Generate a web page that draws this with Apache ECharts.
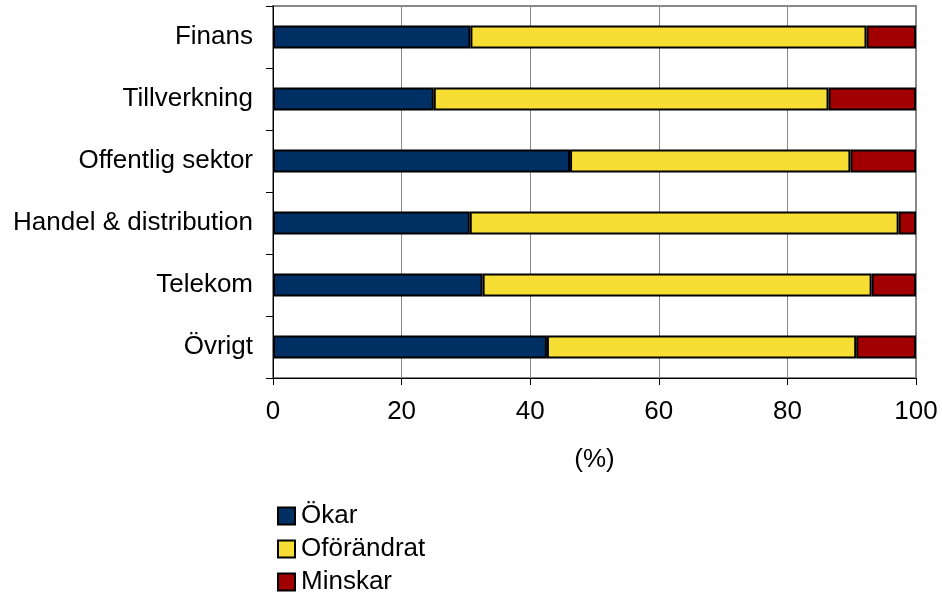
<!DOCTYPE html>
<html>
<head>
<meta charset="utf-8">
<script src="https://cdn.jsdelivr.net/npm/echarts@6/dist/echarts.min.js"></script>
<style>
  html, body { margin: 0; padding: 0; background: #fff; }
  #main { width: 942px; height: 601px; }
</style>
</head>
<body>
<div id="main"></div>
<script>
const categories = ['Finans', 'Tillverkning', 'Offentlig sektor', 'Handel & distribution', 'Telekom', 'Övrigt'];
const okar = [30.7, 25.0, 46.2, 30.6, 32.6, 42.6];
const oforandrat = [61.6, 61.4, 43.6, 66.7, 60.5, 48.1];
const minskar = [7.7, 13.6, 10.2, 2.7, 6.9, 9.3];
const xTicks = [0, 20, 40, 60, 80, 100];

const myChart = echarts.init(document.getElementById('main'));

const barStyle = color => ({ color: color, borderColor: '#000', borderWidth: 2 });

const option = {
  animation: false,
  textStyle: { fontFamily: 'Liberation Sans, Arial, sans-serif' },
  grid: {
    left: 273, right: 26, top: 6, bottom: 223,
    show: true, borderColor: '#888', borderWidth: 2
  },
  legend: {
    orient: 'vertical',
    left: 277,
    top: 503,
    height: 98,
    padding: 0,
    itemWidth: 17,
    itemHeight: 17,
    itemGap: 7,
    icon: 'rect',
    textStyle: { fontSize: 26, lineHeight: 26, color: '#000', padding: [0, 0, 0, 1] },
    data: ['Ökar', 'Oförändrat', 'Minskar']
  },
  xAxis: {
    type: 'value',
    min: xTicks[0],
    max: xTicks[xTicks.length - 1],
    interval: 20,
    name: '(%)',
    nameLocation: 'middle',
    nameGap: 69,
    nameTextStyle: { fontSize: 26, color: '#000' },
    axisLine: { show: true, lineStyle: { color: '#000', width: 1 } },
    axisTick: { show: true, length: 7, lineStyle: { color: '#000' } },
    axisLabel: { fontSize: 26, color: '#000', margin: 21 },
    splitLine: { show: true, lineStyle: { color: '#888', width: 1 } }
  },
  yAxis: {
    type: 'category',
    inverse: true,
    data: categories,
    axisLine: { show: true, lineStyle: { color: '#000', width: 1 } },
    axisTick: { show: true, length: 7, lineStyle: { color: '#000' } },
    axisLabel: { fontSize: 26, color: '#000', margin: 20 },
    splitLine: { show: false }
  },
  series: [
    { name: 'Ökar', type: 'bar', stack: 'total', data: okar, barWidth: 23, itemStyle: barStyle('#003063') },
    { name: 'Oförändrat', type: 'bar', stack: 'total', data: oforandrat, barWidth: 23, itemStyle: barStyle('#F7DE35') },
    { name: 'Minskar', type: 'bar', stack: 'total', data: minskar, barWidth: 23, itemStyle: barStyle('#A00000') }
  ]
};

myChart.setOption(option);
</script>
</body>
</html>
